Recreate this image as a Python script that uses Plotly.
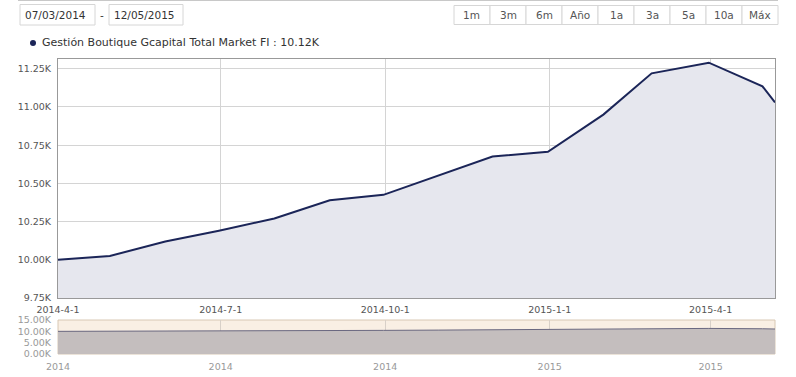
import plotly.graph_objects as go

# ---- data ----
dates = ["2014-04-01", "2014-04-30", "2014-05-31", "2014-06-30", "2014-07-31",
         "2014-08-31", "2014-09-30", "2014-10-31", "2014-11-30", "2014-12-31",
         "2015-01-31", "2015-02-27", "2015-03-31", "2015-04-30", "2015-05-07"]
values = [10000, 10025, 10120, 10190, 10270, 10390, 10425, 10550, 10676, 10707,
          10950, 11220, 11290, 11135, 11030]

x_tick_vals = ["2014-04-01", "2014-07-01", "2014-10-01", "2015-01-01", "2015-04-01"]
x_tick_labels = ["2014-4-1", "2014-7-1", "2014-10-1", "2015-1-1", "2015-4-1"]
nav_x_tick_labels = ["2014", "2014", "2014", "2015", "2015"]
y_tick_vals = [9750, 10000, 10250, 10500, 10750, 11000, 11250]
y_tick_labels = ["9.75K", "10.00K", "10.25K", "10.50K", "10.75K", "11.00K", "11.25K"]
nav_y_tick_vals = [0, 5000, 10000, 15000]
nav_y_tick_labels = ["0.00K", "5.00K", "10.00K", "15.00K"]
buttons = ["1m", "3m", "6m", "Año", "1a", "3a", "5a", "10a", "Máx"]
date_from = "07/03/2014"
date_to = "12/05/2015"
legend_text = "Gestión Boutique Gcapital Total Market FI : 10.12K"

# ---- geometry helpers (pixel -> paper) ----
W, H = 796, 377
L, R, T, B = 58, 775, 59, 354
def px(x):
    return (x - L) / (R - L)
def py(y):
    return 1 - (y - T) / (B - T)

FONT = "DejaVu Sans"

fig = go.Figure()
fig.add_trace(go.Scatter(
    x=dates, y=values, mode="lines",
    line=dict(color="#1b2558", width=2),
    fill="tozeroy", fillcolor="#e6e7ee",
    xaxis="x", yaxis="y", hoverinfo="skip"))
fig.add_trace(go.Scatter(
    x=dates, y=values, mode="lines",
    line=dict(color="#6a6880", width=1),
    fill="tozeroy", fillcolor="#c4bebe",
    xaxis="x2", yaxis="y2", hoverinfo="skip"))

xr = ["2014-04-01", "2015-05-07"]
common = dict(automargin=False, zeroline=False, ticks="outside",
              tickcolor="rgba(0,0,0,0)")
fig.update_layout(
    width=W, height=H,
    margin=dict(l=L, r=W - R, t=T, b=H - B, pad=0, autoexpand=False),
    paper_bgcolor="white", plot_bgcolor="white",
    showlegend=False,
    font=dict(family=FONT, size=10, color="#666"),
    xaxis=dict(domain=[0, 1], anchor="y", range=xr, tickvals=x_tick_vals,
               ticktext=x_tick_labels, showgrid=True, gridcolor="#d4d4d4",
               gridwidth=1, showline=True, linecolor="#999", mirror=True,
               ticklen=3, tickfont=dict(family=FONT, size=9.5, color="#555"),
               **common),
    yaxis=dict(domain=[py(298), 1], anchor="x", range=[9750, 11314],
               tickvals=y_tick_vals, ticktext=y_tick_labels, showgrid=True,
               gridcolor="#d4d4d4", showline=True, linecolor="#999",
               mirror=True, ticklen=4,
               tickfont=dict(family=FONT, size=9.5, color="#555"), **common),
    xaxis2=dict(domain=[0, 1], anchor="y2", range=xr, tickvals=x_tick_vals,
                ticktext=nav_x_tick_labels, showgrid=True, gridcolor="#d8d0c8",
                showline=False, ticklen=4,
                tickfont=dict(family=FONT, size=9.5, color="#999"), **common),
    yaxis2=dict(domain=[0, py(320)], anchor="x2", range=[0, 15000],
                tickvals=nav_y_tick_vals, ticktext=nav_y_tick_labels,
                showgrid=True, gridcolor="#d8d0c8", showline=False, ticklen=4,
                tickfont=dict(family=FONT, size=9.5, color="#999"), **common),
)

shapes = []
# navigator background
shapes.append(dict(type="rect", xref="x2 domain", yref="y2 domain", x0=0, x1=1,
                   y0=0, y1=1, fillcolor="#f9efe4", line=dict(color="#d8c8b4", width=1),
                   layer="below"))
# top separator line
shapes.append(dict(type="line", xref="paper", yref="paper", x0=px(18), x1=px(778),
                   y0=py(0.5), y1=py(0.5), line=dict(color="#c8c8c8", width=1)))
# date boxes
for x0, x1 in [(20, 95), (109, 183)]:
    shapes.append(dict(type="rect", xref="paper", yref="paper", x0=px(x0), x1=px(x1),
                       y0=py(25), y1=py(4.5), line=dict(color="#d6d6d6", width=1),
                       fillcolor="white"))
# buttons
bx0, bw = 454, 36
for i in range(len(buttons)):
    shapes.append(dict(type="rect", xref="paper", yref="paper",
                       x0=px(bx0 + i * bw), x1=px(bx0 + (i + 1) * bw),
                       y0=py(24.5), y1=py(5.5), line=dict(color="#d6d6d6", width=1),
                       fillcolor="white"))
# legend marker
shapes.append(dict(type="circle", xref="paper", yref="paper", x0=px(30), x1=px(36),
                   y0=py(46), y1=py(40), fillcolor="#1b2558", line=dict(width=0)))
fig.update_layout(shapes=shapes)

ann = []
ann.append(dict(text=date_from, x=px(23), y=py(15), xref="paper", yref="paper",
                xanchor="left", yanchor="middle", showarrow=False,
                font=dict(family=FONT, size=10.5, color="#333")))
ann.append(dict(text="-", x=px(101.5), y=py(15), xref="paper", yref="paper",
                xanchor="center", yanchor="middle", showarrow=False,
                font=dict(family=FONT, size=10.5, color="#333")))
ann.append(dict(text=date_to, x=px(112), y=py(15), xref="paper", yref="paper",
                xanchor="left", yanchor="middle", showarrow=False,
                font=dict(family=FONT, size=10.5, color="#333")))
for i, b in enumerate(buttons):
    ann.append(dict(text=b, x=px(bx0 + (i + 0.5) * bw), y=py(15), xref="paper",
                    yref="paper", xanchor="center", yanchor="middle", showarrow=False,
                    font=dict(family=FONT, size=10.5, color="#555")))
ann.append(dict(text=legend_text, x=px(40), y=py(43), xref="paper", yref="paper",
                xanchor="left", yanchor="middle", showarrow=False,
                font=dict(family=FONT, size=11, color="#333")))
fig.update_layout(annotations=ann)

fig.write_html("out.html", config={"displayModeBar": False},
               post_script="document.body.style.margin='0';document.body.style.overflow='hidden';")
